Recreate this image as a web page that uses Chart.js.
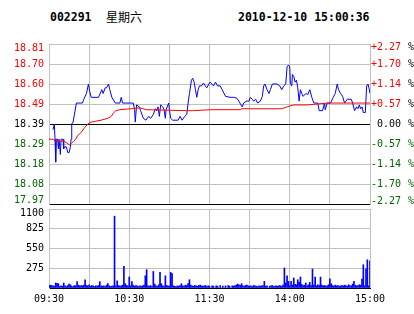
<!DOCTYPE html>
<html><head><meta charset="utf-8">
<script src="https://cdn.jsdelivr.net/npm/chart.js@4"></script>
<style>
html,body{margin:0;padding:0;background:#fff;width:414px;height:314px;overflow:hidden;position:relative;}
.t{position:absolute;top:10px;font:bold 11.5px "DejaVu Sans Mono",monospace;color:#000;line-height:14px;white-space:pre;}
#c1{position:absolute;left:0;top:0;}
#c2{position:absolute;left:0;top:190px;}
</style></head><body>
<div class="t" id="code" style="left:50px"></div>
<div class="t" id="day" style="left:106px;font:12px 'Noto Sans CJK SC',sans-serif;line-height:14px;"></div>
<div class="t" id="stamp" style="left:238px"></div>
<canvas id="c2" width="414" height="124"></canvas>
<canvas id="c1" width="414" height="220"></canvas>
<script>
// ---- data ----
const stockCode = '002291';
const weekDay = '星期六';
const timeStamp = '2010-12-10 15:00:36';
const prevClose = 18.39;
const priceStep = 0.105;
const priceTickLabels = ['17.97','18.08','18.18','18.29','18.39','18.49','18.60','18.70','18.81'];
const pctTickLabels = ['-2.27','-1.70','-1.14','-0.57',' 0.00','+0.57','+1.14','+1.70','+2.27'];
const pctUnitLabels = ['%','%','%','%','%','%','%','%','%'];
const volumeTickLabels = ['','275','550','825','1100'];
const volumeMax = 1100;
const timeTickLabels = ['09:30','','10:30','','11:30','','14:00','','15:00'];

// minute index since 09:30 (0..240) and price
const priceMinutes = [3,4,4.5,5,5.5,6.5,7,7.5,8.5,9,10.5,11,11.5,13,14,15,16,16.5,17,18,19.5,20.5,25,26,28,29.5,30.5,31.5,37,39.5,40.5,42,43,44.5,45.5,47,49.5,53,54,55,63,64,64.5,65.5,67.5,68.5,70.5,72.5,74.5,76,78,79.5,80.5,81.5,82.5,83.5,85,86,87,87.5,89.5,90,91,92.5,96.5,98,99.5,101.5,103,104,105,106.5,107.5,108.5,109.5,110.5,111.5,112.5,114,115.5,116.8,118,119.5,120.5,121.7,123,124.5,126,128,129.5,132,135.5,138,140.5,142,143.5,144.5,145.5,147.5,149.5,150.5,152,153,154.5,156,158,159.5,160.5,161.5,163,164.5,165.5,167,170.5,172.5,174,175.5,177,178,179,180,180.5,181.5,182,183,184,185,186,187,188,189,190,192,193.5,195,196.5,198,201,202,204.5,206,206.5,208,210.5,212.5,214,215.5,216.5,218,219.5,221,223,226,227,228.5,230,231,232,233,234,235,236.5,237.5,238.5,239.5,240];
const priceValues = [18.36,18.39,18.31,18.19,18.31,18.31,18.26,18.31,18.23,18.31,18.31,18.26,18.27,18.27,18.24,18.24,18.27,18.31,18.39,18.40,18.46,18.50,18.50,18.52,18.55,18.60,18.56,18.53,18.53,18.57,18.55,18.58,18.58,18.60,18.57,18.53,18.50,18.50,18.53,18.50,18.50,18.465,18.40,18.49,18.48,18.46,18.42,18.41,18.43,18.42,18.44,18.47,18.46,18.48,18.43,18.49,18.48,18.465,18.42,18.465,18.50,18.465,18.42,18.41,18.41,18.43,18.41,18.43,18.44,18.50,18.55,18.62,18.63,18.61,18.57,18.53,18.57,18.59,18.59,18.605,18.59,18.58,18.60,18.61,18.60,18.59,18.61,18.59,18.59,18.57,18.535,18.53,18.53,18.525,18.51,18.49,18.48,18.50,18.51,18.51,18.53,18.52,18.51,18.52,18.50,18.51,18.535,18.59,18.60,18.57,18.55,18.57,18.60,18.60,18.59,18.57,18.59,18.60,18.69,18.70,18.69,18.605,18.59,18.65,18.64,18.61,18.62,18.58,18.51,18.57,18.55,18.535,18.55,18.545,18.57,18.53,18.50,18.50,18.46,18.46,18.50,18.465,18.50,18.50,18.53,18.55,18.60,18.57,18.55,18.535,18.50,18.52,18.52,18.50,18.46,18.48,18.47,18.49,18.47,18.48,18.45,18.45,18.59,18.60,18.57,18.55];

const avgMinutes = [0,3.5,4.3,8,11,13.5,15.3,17,18.5,20,21.5,24,26.5,29,31.5,35,39,44,46.5,48.5,50,53,61.5,68,73,103,108,120.5,143,144,174.3,178,183,193,200.5,208,240];
const avgValues = [18.31,18.31,18.30,18.30,18.30,18.29,18.28,18.29,18.30,18.31,18.33,18.345,18.37,18.39,18.40,18.405,18.41,18.42,18.43,18.45,18.46,18.465,18.47,18.475,18.465,18.46,18.46,18.465,18.465,18.47,18.47,18.48,18.49,18.49,18.495,18.50,18.50];

// per-minute volume, minute 0..240
const volumeValues = [
30,40,35,30,25,70,65,60,20,30,
25,70,30,20,35,55,45,25,20,35,
30,88,40,30,35,30,40,115,35,30,
45,25,35,30,20,30,25,35,88,30,
25,30,20,40,60,30,20,25,30,1000,
30,100,35,25,30,40,300,60,35,30,
153,30,88,40,25,35,30,20,30,25,
30,40,170,255,30,25,35,20,230,55,
30,25,45,217,60,30,25,170,35,30,
25,217,200,30,25,20,30,25,35,60,
30,25,40,35,60,115,40,30,25,35,
30,25,35,40,30,25,30,35,20,30,
25,0,30,25,0,30,25,0,35,0,
25,0,30,0,35,25,0,30,25,35,
40,55,45,35,60,30,25,35,40,30,
25,30,20,35,30,25,20,30,25,30,
35,92,25,30,0,25,30,35,20,25,
30,25,35,30,25,40,278,70,170,92,
30,92,40,140,50,45,115,80,153,50,
35,40,70,30,45,78,35,264,40,153,
30,45,35,153,40,30,35,25,30,45,
129,60,35,25,40,30,35,25,30,35,
30,40,35,25,45,35,30,55,92,40,
30,35,45,40,125,324,30,268,393,30,
380];

// ---- rendering ----
document.getElementById('code').textContent = stockCode;
document.getElementById('day').textContent = weekDay;
document.getElementById('stamp').textContent = timeStamp;

const RED = '#ff0000', GREEN = '#006400', BLACK = '#000000', GRID = '#c0c0c0', BLUE = '#0000ff';
const FONT = {family: "'DejaVu Sans Mono', monospace", size: 10};
const yMin = prevClose - 4 * priceStep, yMax = prevClose + 4 * priceStep;
const rowColor = i => i > 4 ? RED : (i === 4 ? BLACK : GREEN);
const unitColor = i => i < 4 ? GREEN : BLACK;

function edgeShiftPlugin(map) {
  return {
    id: 'edgeShift',
    beforeDraw(chart) {
      for (const id in map) {
        const s = chart.scales[id];
        if (!s) continue;
        const items = s.getLabelItems();
        let top = null, bot = null;
        items.forEach(it => {
          if (!it.label) return;
          const y = it.options.translation[1];
          if (!top || y < top.options.translation[1]) top = it;
          if (!bot || y > bot.options.translation[1]) bot = it;
        });
        if (top && map[id].top) top.options.translation[1] += map[id].top;
        if (bot && map[id].bottom) bot.options.translation[1] += map[id].bottom;
      }
    }
  };
}
const evenPriceTicks = s => { s.ticks = priceTickLabels.map((_, i) => ({value: yMin + i * priceStep})); };

new Chart(document.getElementById('c1'), {
  type: 'line',
  data: {
    datasets: [
      {data: avgMinutes.map((m, i) => ({x: m, y: avgValues[i]})), borderColor: RED, borderWidth: 1, pointRadius: 0, tension: 0},
      {data: priceMinutes.map((m, i) => ({x: m, y: priceValues[i]})), borderColor: BLUE, borderWidth: 1, pointRadius: 0, tension: 0}
    ]
  },
  options: {
    responsive: false, animation: false, devicePixelRatio: 1,
    layout: {padding: {top: 44, bottom: 16, left: 0, right: 0}},
    plugins: {legend: {display: false}, tooltip: {enabled: false}},
    scales: {
      x: {type: 'linear', min: 0, max: 240, ticks: {display: false, stepSize: 30},
          grid: {color: GRID, drawTicks: false}, border: {color: BLACK},
          afterFit: s => { s.height = 0; }},
      y: {position: 'left', min: yMin, max: yMax, afterBuildTicks: evenPriceTicks,
          ticks: {callback: (v, i) => priceTickLabels[i], color: c => rowColor(c.index), font: FONT, padding: 5, autoSkip: false},
          grid: {color: c => (c.index === 4 || c.index === 0) ? BLACK : GRID, drawTicks: false},
          border: {color: GRID},
          afterFit: s => { s.width = 49; }},
      y2: {position: 'right', weight: 0, min: yMin, max: yMax, afterBuildTicks: evenPriceTicks,
          ticks: {callback: (v, i) => pctTickLabels[i], color: c => rowColor(c.index), font: FONT, padding: 1, autoSkip: false},
          grid: {display: false, drawTicks: false}, border: {color: GRID},
          afterFit: s => { s.width = 37; }},
      y3: {position: 'right', weight: 1, min: yMin, max: yMax, afterBuildTicks: evenPriceTicks,
          ticks: {callback: (v, i) => pctUnitLabels[i], color: c => unitColor(c.index), font: FONT, padding: 1, autoSkip: false},
          grid: {display: false, drawTicks: false}, border: {display: false},
          afterFit: s => { s.width = 7; }}
    }
  },
  plugins: [edgeShiftPlugin({y: {top: 4, bottom: -4}, y2: {top: 3, bottom: -3}, y3: {top: 3, bottom: -3}})]
});

new Chart(document.getElementById('c2'), {
  type: 'bar',
  data: {
    datasets: [{data: volumeValues.map((v, i) => ({x: i, y: v})), backgroundColor: BLUE, barThickness: 1, borderWidth: 0}]
  },
  options: {
    responsive: false, animation: false, devicePixelRatio: 1,
    layout: {padding: {top: 19, bottom: 0, left: 0, right: 44}},
    plugins: {legend: {display: false}, tooltip: {enabled: false}},
    scales: {
      x: {type: 'linear', min: 0, max: 240, offset: false,
          afterBuildTicks: s => { s.ticks = timeTickLabels.map((_, i) => ({value: i * 30})); },
          ticks: {callback: (v, i) => timeTickLabels[i], color: BLACK, font: FONT, padding: 5, autoSkip: false, maxRotation: 0},
          grid: {color: GRID, drawTicks: false, offset: false}, border: {color: BLACK},
          afterFit: s => { s.height = 26; }},
      y: {min: 0, max: volumeMax,
          afterBuildTicks: s => { s.ticks = volumeTickLabels.map((_, i) => ({value: i * volumeMax / 4})); },
          ticks: {callback: (v, i) => volumeTickLabels[i], color: BLACK, font: FONT, padding: 5, autoSkip: false},
          grid: {color: GRID, drawTicks: false}, border: {color: GRID},
          afterFit: s => { s.width = 49; }}
    }
  },
  plugins: [edgeShiftPlugin({y: {top: 4}})]
});
</script>
</body></html>
